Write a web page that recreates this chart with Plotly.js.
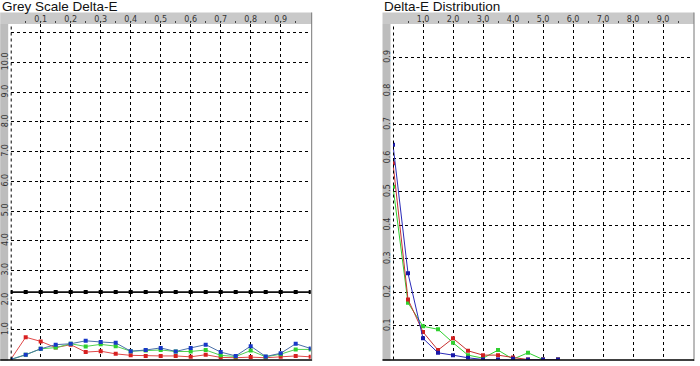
<!DOCTYPE html>
<html><head><meta charset="utf-8">
<script src="https://cdn.plot.ly/plotly-3.0.1.min.js"></script>
<style>html,body{margin:0;padding:0;background:#fff;}#c{width:700px;height:366px;}</style>
</head><body><div id="c"></div>
<script>
// ---- data ----
const greyX = [0,0.05,0.1,0.15,0.2,0.25,0.3,0.35,0.4,0.45,0.5,0.55,0.6,0.65,0.7,0.75,0.8,0.85,0.9,0.95,1.0];
const greyBlack = [2.27,2.27,2.27,2.27,2.27,2.27,2.27,2.27,2.27,2.27,2.27,2.27,2.27,2.27,2.27,2.27,2.27,2.27,2.27,2.27,2.27];
const greyRed   = [0,0.75,0.61,0.40,0.50,0.25,0.28,0.19,0.14,0.12,0.12,0.12,0.09,0.16,0.07,0.06,0.08,0.06,0.09,0.12,0.09];
const greyGreen = [0,0.16,0.36,0.40,0.53,0.44,0.51,0.45,0.28,0.30,0.32,0.27,0.27,0.32,0.14,0.10,0.30,0.09,0.18,0.34,0.34];
const greyBlue  = [0,0.16,0.36,0.50,0.53,0.63,0.59,0.56,0.28,0.32,0.39,0.27,0.39,0.50,0.25,0.12,0.45,0.10,0.21,0.53,0.37];
const greyTickVals = [0.1,0.2,0.3,0.4,0.5,0.6,0.7,0.8,0.9];
const greyTickText = ['0.1','0.2','0.3','0.4','0.5','0.6','0.7','0.8','0.9'];
const greyYVals = [1,2,3,4,5,6,7,8,9,10,11];
const greyYText = ['1.0','2.0','3.0','4.0','5.0','6.0','7.0','8.0','9.0','10.0',''];

const distX = [0,0.5,1.0,1.5,2.0,2.5,3.0,3.5,4.0,4.5,5.0,5.5];
const distRed   = [0.585,0.179,0.082,0.028,0.063,0.026,0.013,0.013,0.006,0,0,0];
const distGreen = [0.515,0.169,0.099,0.090,0.050,0.013,0.004,0.028,0.001,0.020,0,0];
const distBlue  = [0.640,0.257,0.063,0.020,0.013,0.005,0,0,0.002,0,0,0];
const distTickVals = [1,2,3,4,5,6,7,8,9];
const distTickText = ['1.0','2.0','3.0','4.0','5.0','6.0','7.0','8.0','9.0'];
const distYVals = [0.1,0.2,0.3,0.4,0.5,0.6,0.7,0.8,0.9];
const distYText = ['0.1','0.2','0.3','0.4','0.5','0.6','0.7','0.8','0.9'];

// ---- helpers ----
const W = 700, H = 366;
const px = v => v / W, py = v => 1 - v / H;
const tickFont = {family: 'DejaVu Sans', size: 8, color: '#333'};

function series(x, y, lc, mc, xa, ya, lw) {
  return {x: x, y: y, xaxis: xa, yaxis: ya, type: 'scatter', mode: 'lines+markers',
    line: {color: lc, width: lw || 1}, marker: {symbol: 'square', size: 4, color: mc},
    hoverinfo: 'skip', showlegend: false};
}

const traces = [
  series(greyX, greyBlack, '#111', '#000', 'x', 'y', 1.6),
  series(greyX, greyRed, '#e04848', '#d82020', 'x', 'y'),
  series(greyX, greyGreen, '#50d050', '#30d030', 'x', 'y'),
  series(greyX, greyBlue, '#4a70a8', '#1838c8', 'x', 'y'),
  series(distX, distGreen, '#30d030', '#30d030', 'x2', 'y2'),
  series(distX, distRed, '#c83030', '#d02020', 'x2', 'y2'),
  series(distX, distBlue, '#2a2ab8', '#1818a8', 'x2', 'y2')
];

const xCommon = {side: 'top', showgrid: true, gridcolor: '#000', griddash: 'dot', gridwidth: 1,
  zeroline: false, showline: false, ticks: 'outside', ticklen: 2, tickcolor: '#444', tickfont: tickFont,
  ticklabelstandoff: -4, tickmode: 'array', fixedrange: true};
const yCommon = {showgrid: true, gridcolor: '#000', griddash: 'dot', gridwidth: 1,
  zeroline: false, showline: false, ticks: '', tickfont: tickFont, tickangle: -90,
  tickmode: 'array', fixedrange: true};
const yDom = [py(359.5), py(24)];

const shapes = [];
function panel(x0, x1, xa, ya) {
  shapes.push({type: 'rect', xref: 'paper', yref: 'paper', x0: px(x0 - 10.5), x1: px(x1 + 1), y0: py(24), y1: py(12.5),
    fillcolor: '#c9c9c9', line: {width: 0}, layer: 'below'});
  shapes.push({type: 'rect', xref: 'paper', yref: 'paper', x0: px(x0 - 10.5), x1: px(x0 - 2.5), y0: py(360.5), y1: py(24),
    fillcolor: '#bdbdbd', line: {width: 0}, layer: 'below'});
  shapes.push({type: 'line', xref: 'paper', yref: 'paper', x0: px(x1 + 1), x1: px(x1 + 1), y0: py(361), y1: py(12.5),
    line: {color: '#777', width: 1}});
  shapes.push({type: 'line', xref: 'paper', yref: 'paper', x0: px(x0 - 10.5), x1: px(x1 + 1), y0: py(360), y1: py(360),
    line: {color: '#000', width: 1.5}});
  shapes.push({type: 'line', xref: xa, yref: ya + ' domain', x0: 0, x1: 0, y0: 0, y1: 1,
    line: {color: '#000', width: 2, dash: 'dot'}});
}
panel(10.7, 310.7, 'x', 'y');
panel(393, 693, 'x2', 'y2');

const layout = {
  width: W, height: H, margin: {l: 0, r: 0, t: 0, b: 0},
  paper_bgcolor: 'rgba(0,0,0,0)', plot_bgcolor: 'rgba(0,0,0,0)',
  xaxis: Object.assign({}, xCommon, {domain: [px(10.7), px(310.7)], range: [0, 1.0],
    tickvals: greyTickVals, ticktext: greyTickText, anchor: 'y',
    minor: {tickvals: [0.05,0.15,0.25,0.35,0.45,0.55,0.65,0.75,0.85,0.95], ticks: 'outside', ticklen: 2, tickcolor: '#444', showgrid: false}}),
  yaxis: Object.assign({}, yCommon, {domain: yDom, range: [0, 11.3], tickvals: greyYVals, ticktext: greyYText, anchor: 'x'}),
  xaxis2: Object.assign({}, xCommon, {domain: [px(393), px(693)], range: [0, 10],
    tickvals: distTickVals, ticktext: distTickText, anchor: 'y2',
    minor: {tickvals: [0.5,1.5,2.5,3.5,4.5,5.5,6.5,7.5,8.5,9.5], ticks: 'outside', ticklen: 2, tickcolor: '#444', showgrid: false}}),
  yaxis2: Object.assign({}, yCommon, {domain: yDom, range: [0, 1.0], tickvals: distYVals, ticktext: distYText, anchor: 'x2'}),
  shapes: shapes,
  annotations: [
    {text: 'Grey Scale Delta-E', xref: 'paper', yref: 'paper', x: 0, y: py(6.5), xanchor: 'left', yanchor: 'middle',
      showarrow: false, font: {family: 'Liberation Sans', size: 13.5, color: '#111'}},
    {text: 'Delta-E Distribution', xref: 'paper', yref: 'paper', x: px(382), y: py(6.5), xanchor: 'left', yanchor: 'middle',
      showarrow: false, font: {family: 'Liberation Sans', size: 13.5, color: '#111'}}
  ]
};

Plotly.newPlot('c', traces, layout, {staticPlot: true, displayModeBar: false});
</script>
</body></html>
